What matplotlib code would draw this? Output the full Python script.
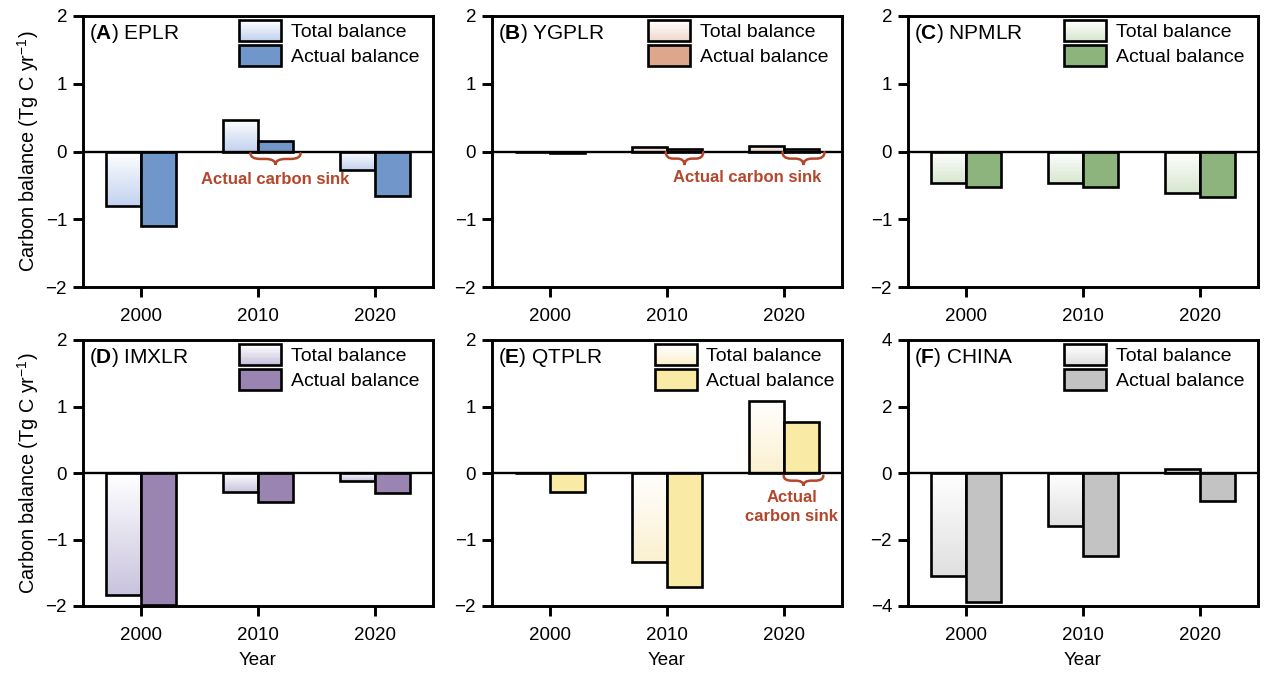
import numpy as np
import matplotlib
matplotlib.use('Agg')
import matplotlib.pyplot as plt
from matplotlib.patches import Rectangle, PathPatch
from matplotlib.path import Path
from matplotlib.legend_handler import HandlerBase
from matplotlib.colors import to_rgb

plt.rcParams['font.family'] = ['Liberation Sans', 'DejaVu Sans']
plt.rcParams['mathtext.fontset'] = 'custom'
plt.rcParams['mathtext.rm'] = 'Liberation Sans'
plt.rcParams['mathtext.bf'] = 'Liberation Sans:bold'
plt.rcParams['mathtext.it'] = 'Liberation Sans:italic'

# ---------------- data ----------------
years = ['2000', '2010', '2020']
letters = ['A', 'B', 'C', 'D', 'E', 'F']
regions = ['EPLR', 'YGPLR', 'NPMLR', 'IMXLR', 'QTPLR', 'CHINA']

total_A = [-0.81, 0.46, -0.28]
actual_A = [-1.10, 0.15, -0.66]
total_B = [0.0, 0.06, 0.08]
actual_B = [-0.02, 0.03, 0.04]
total_C = [-0.46, -0.47, -0.61]
actual_C = [-0.52, -0.52, -0.67]
total_D = [-1.83, -0.28, -0.12]
actual_D = [-1.98, -0.44, -0.30]
total_E = [0.0, -1.34, 1.08]
actual_E = [-0.285, -1.71, 0.76]
total_F = [-3.10, -1.59, 0.13]
actual_F = [-3.89, -2.49, -0.85]

totals = [total_A, total_B, total_C, total_D, total_E, total_F]
actuals = [actual_A, actual_B, actual_C, actual_D, actual_E, actual_F]
ylims = [2, 2, 2, 2, 2, 4]
yticks_list = [[-2, -1, 0, 1, 2]] * 5 + [[-4, -2, 0, 2, 4]]

actual_colors = ['#7196c9', '#dca78d', '#8db47c', '#9a84b2', '#f9eaa6', '#c3c3c3']
grad_colors = ['#c3d2ef', '#f0d9cd', '#d8e7d0', '#c9c3de', '#fbf0cf', '#e0e0e0']

sink_color = '#b4462b'

# ---------------- helpers ----------------
def blend(c1, c2, t):
    a = np.array(to_rgb(c1)); b = np.array(to_rgb(c2))
    return tuple(a * (1 - t) + b * t)


class GradHandler(HandlerBase):
    def __init__(self, color):
        super().__init__()
        self.color = color

    def create_artists(self, legend, orig_handle, xdescent, ydescent, width, height, fontsize, trans):
        arts = []
        n = 16
        x0, y0 = -xdescent, -ydescent
        for i in range(n):
            t = i / (n - 1)
            col = blend(self.color, 'white', t)
            r = Rectangle((x0, y0 + height * i / n), width, height / n + 0.2,
                          facecolor=col, edgecolor='none', transform=trans)
            arts.append(r)
        frame = Rectangle((x0, y0), width, height, facecolor='none', edgecolor='black',
                          linewidth=1.9, transform=trans)
        arts.append(frame)
        return arts


def brace(ax, xc, w, ytop, h, color):
    x0, x1 = xc - w / 2, xc + w / 2
    ym = ytop - h / 2
    r = w * 0.2
    verts = [(x0, ytop), (x0, ym), (x0 + r, ym), (xc - r, ym), (xc, ym), (xc, ytop - h),
             (xc, ym), (xc + r, ym), (x1 - r, ym), (x1, ym), (x1, ytop)]
    codes = [Path.MOVETO, Path.CURVE3, Path.CURVE3, Path.LINETO, Path.CURVE3, Path.CURVE3,
             Path.CURVE3, Path.CURVE3, Path.LINETO, Path.CURVE3, Path.CURVE3]
    ax.add_patch(PathPatch(Path(verts, codes), facecolor='none', edgecolor=color,
                           linewidth=1.8, zorder=6, capstyle='round'))


# ---------------- figure ----------------
W, H = 1268, 673
fig = plt.figure(figsize=(W / 100, H / 100), dpi=100)
col_left = [83, 492, 908]
ax_w = 350
rows = [(16, 287), (340, 606)]

x = np.arange(len(years))
bw = 0.30

axes = []
for k in range(6):
    r, c = divmod(k, 3)
    top, bot = rows[r]
    ax = fig.add_axes([col_left[c] / W, (H - bot) / H, ax_w / W, (bot - top) / H])
    axes.append(ax)
    tot = totals[k]; act = actuals[k]
    grad = grad_colors[k]

    bars_t = ax.bar(x - bw / 2, tot, width=bw, facecolor='none', edgecolor='black',
                    linewidth=1.9, zorder=3)
    ax.bar(x + bw / 2, act, width=bw, facecolor=actual_colors[k], edgecolor='black',
           linewidth=1.9, zorder=3)
    # gradient fill for total bars (tint at bottom, white at top)
    gimg = np.array([blend(grad, 'white', t) for t in np.linspace(0, 1, 64)]).reshape(64, 1, 3)
    for b in bars_t:
        bx, by = b.get_x(), b.get_y()
        bwid, bh = b.get_width(), b.get_height()
        ylo, yhi = min(by, by + bh), max(by, by + bh)
        if yhi - ylo <= 0:
            continue
        im = ax.imshow(gimg, extent=(bx, bx + bwid, ylo, yhi), origin='lower',
                       aspect='auto', zorder=2, interpolation='bilinear')
        im.set_clip_path(b)

    ax.axhline(0, color='black', linewidth=1.7, zorder=4)
    lim = ylims[k]
    ax.set_xlim(-0.5, 2.5)
    ax.set_ylim(-lim, lim)
    ax.set_yticks(yticks_list[k])
    ax.set_xticks(x)
    ax.set_xticklabels(years)
    for s in ax.spines.values():
        s.set_linewidth(2.1)
    ax.tick_params(axis='both', direction='out', length=7, width=2.1, labelsize=13.5,
                   top=False, right=False)
    ax.tick_params(axis='x', pad=8)
    ax.tick_params(axis='y', pad=4.5)

    ax.text(0.018, 0.935, r'($\mathbf{%s}$) %s' % (letters[k], regions[k]),
            transform=ax.transAxes, fontsize=15, ha='left', va='center')

    h_tot = Rectangle((0, 0), 1, 1)
    h_act = Rectangle((0, 0), 1, 1, facecolor=actual_colors[k], edgecolor='black', linewidth=1.9)
    lx = 0.465 if k == 4 else 0.447
    ax.legend([h_tot, h_act], ['Total balance', 'Actual balance'],
              handler_map={h_tot: GradHandler(grad)},
              loc='upper left', bbox_to_anchor=(lx, 0.985), frameon=False,
              fontsize=14, handlelength=2.15, handleheight=1.25, handletextpad=0.5,
              labelspacing=0.22, borderpad=0, borderaxespad=0)

    if c == 0:
        ax.set_ylabel('Carbon balance (Tg C yr$^{-1}$)', fontsize=14.3)
        ax.yaxis.set_label_coords(-0.12, 0.5)
    if r == 1:
        ax.set_xlabel('Year', fontsize=13.5, labelpad=6)

# annotations
axA, axB, axE = axes[0], axes[1], axes[4]
brace(axA, 1 + bw / 2, 0.43, -0.025, 0.17, sink_color)
axA.text(1.15, -0.42, 'Actual carbon sink', color=sink_color, fontsize=12,
         fontweight='bold', ha='center', va='center', zorder=6)

brace(axB, 1 + bw / 2, 0.32, -0.01, 0.19, sink_color)
brace(axB, 2 + bw / 2 + 0.02, 0.36, -0.01, 0.19, sink_color)
axB.text(1.69, -0.38, 'Actual carbon sink', color=sink_color, fontsize=12,
         fontweight='bold', ha='center', va='center', zorder=6)

brace(axE, 2 + bw / 2 + 0.02, 0.34, -0.04, 0.15, sink_color)
axE.text(2.07, -0.51, 'Actual\ncarbon sink', color=sink_color, fontsize=12,
         fontweight='bold', ha='center', va='center', linespacing=1.3, zorder=6)

fig.savefig('out.png', dpi=100)
